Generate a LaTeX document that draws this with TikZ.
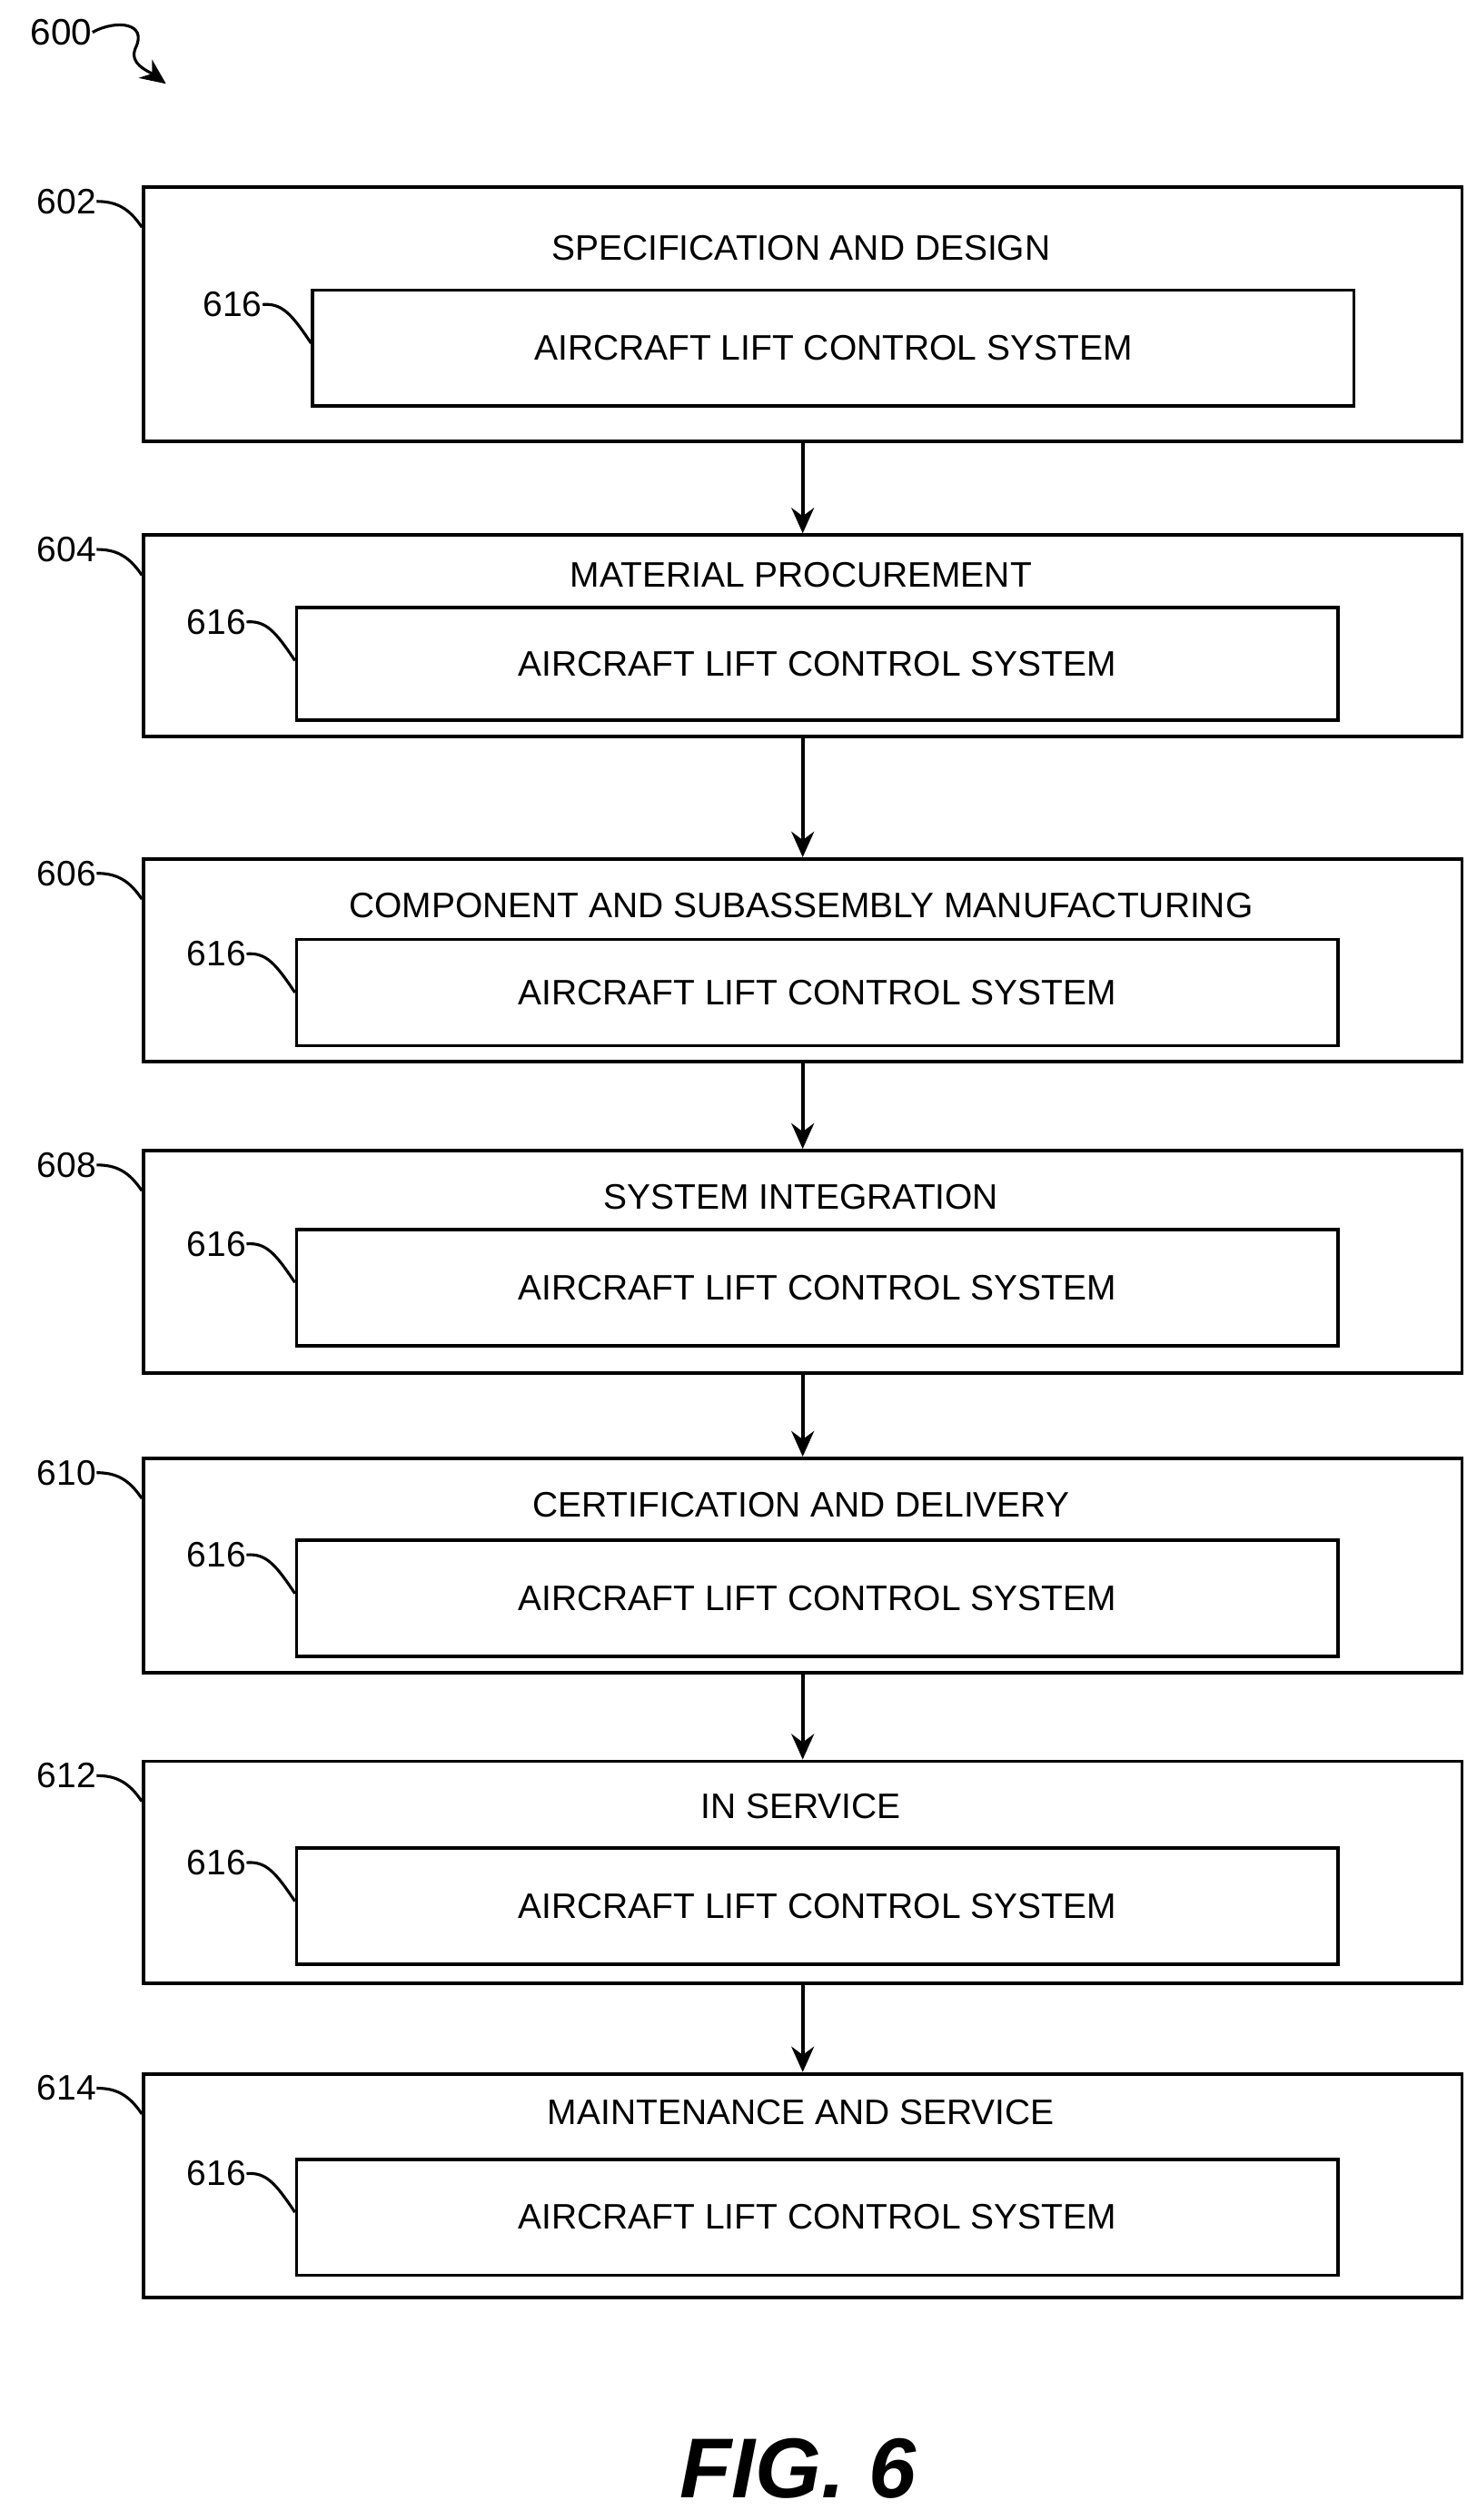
\documentclass[tikz,border=0pt]{standalone}
\usepackage{fontspec}
\setmainfont{Liberation Sans}
\usetikzlibrary{arrows.meta}
\begin{document}
\begin{tikzpicture}[x=0.02cm,y=-0.02cm,
  outer/.style={draw,line width=1.2pt},
  inner/.style={draw,line width=1.2pt},
  txt/.style={font=\fontsize{12.5}{14}\selectfont,inner sep=0pt},
  lead/.style={line width=1pt},
  flow/.style={line width=1.3pt,-{Stealth[length=9pt,width=8pt]}}]
\useasboundingbox (0,0) rectangle (916,1564);
\node[txt,font=\fontsize{13}{15}\selectfont] (l600) at (38,20) {600};
\coordinate (a600) at (103,52);
\draw[lead,-{Stealth[length=9pt,width=8pt]}] (l600.east) .. controls (72,12) and (92,14) .. (84,30) .. controls (80,40) and (92,44) .. (a600);
\foreach \n/\yt/\yb/\ys/\xi/\iyt/\iyb/\title in {
 602/115/273/154/193/179/251/SPECIFICATION AND DESIGN,
 604/331/456/357/183/376/446/MATERIAL PROCUREMENT,
 606/532/658/562/183/582/648/COMPONENT AND SUBASSEMBLY MANUFACTURING,
 608/713/851/743/183/762/834/SYSTEM INTEGRATION,
 610/904/1037/934/183/955/1027/CERTIFICATION AND DELIVERY,
 612/1092/1230/1121/183/1146/1218/IN SERVICE,
 614/1286/1425/1311/183/1339/1411/MAINTENANCE AND SERVICE}{
  \node[outer,minimum width=818*0.02cm,minimum height={(\yb-\yt)*0.02cm},anchor=north west,inner sep=0pt] (b\n) at (88,\yt) {};
  \node[txt] (t\n) at (497,\ys) {\title};
  \node[inner,minimum width=646*0.02cm,minimum height={(\iyb-\iyt)*0.02cm},anchor=north west,inner sep=0pt] (i\n) at (\xi,\iyt) {};
  \node[txt] (it\n) at (i\n.center) {AIRCRAFT LIFT CONTROL SYSTEM};
  \node[txt,anchor=east] (n\n) at (60,\yt+10) {\n};
  \draw[lead] (n\n.east) .. controls (72,\yt+10) and (80,\yt+14) .. (88,\yt+26);
  \node[txt,anchor=east] (m\n) at (\xi-30,\iyt+10) {616};
  \draw[lead] (m\n.east) .. controls (\xi-18,\iyt+9) and (\xi-12,\iyt+16) .. (\xi,\iyt+34);
}
\foreach \a/\b in {602/604,604/606,606/608,608/610,610/612,612/614}{
  \draw[flow] (b\a.south) -- (b\b.north);
}
\node[txt,font=\fontsize{30}{34}\selectfont\bfseries\itshape] (fig) at (495,1532) {FIG. 6};
\end{tikzpicture}
\end{document}
